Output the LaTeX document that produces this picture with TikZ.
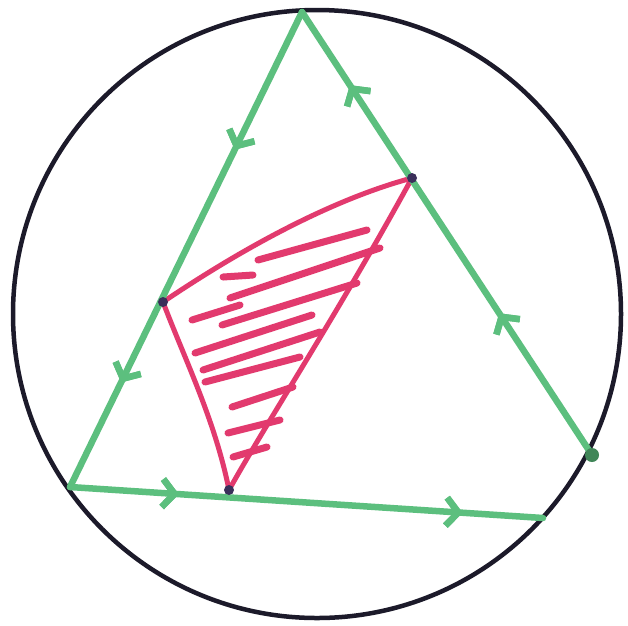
\documentclass[tikz,border=0pt]{standalone}
\usetikzlibrary{arrows.meta,decorations.markings}
\definecolor{pen}{HTML}{5CBF7E}
\definecolor{ink}{HTML}{1C1A2A}
\definecolor{hatch}{HTML}{E23A6E}
\definecolor{dotc}{HTML}{3A2F5A}
\tikzset{
  circ/.style={draw=ink,line width=4.5pt},
  side/.style={draw=pen,line width=6.5pt,line cap=round},
  chev/.style={decoration={markings,mark=at position #1 with {\arrow{Straight Barb[length=12pt,width=28pt,line width=6.5pt]}}},postaction={decorate}},
  redline/.style={draw=hatch,line width=5pt,line cap=round,line join=round},
  hline/.style={draw=hatch,line width=7pt,line cap=round},
  vdot/.style={circle,fill=dotc,inner sep=0pt,minimum size=10pt},
}
\begin{document}
\begin{tikzpicture}[x=1pt,y=-1pt]
\useasboundingbox (0,0) rectangle (628,625);
\fill[white] (0,0) rectangle (628,625);
% circle
\node[circ,circle,minimum size=608pt,inner sep=0pt] (C) at (317,314) {};
% triangle vertices
\coordinate (T) at (302,12);
\coordinate (L) at (70,487);
\coordinate (R) at (592,455);
\coordinate (B) at (543,518);
% red quadrilateral vertices
\coordinate (P) at (163,302);
\coordinate (Q) at (412,178);
\coordinate (S) at (229,490);
% hatching
\draw[hline] (258,260) -- (367,230);
\draw[hline] (223,277) -- (253,275);
\draw[hline] (230,298) -- (380,248);
\draw[hline] (192,320) -- (240,305);
\draw[hline] (222,325) -- (357,283);
\draw[hline] (195,353) -- (312,315);
\draw[hline] (203,370) -- (320,332);
\draw[hline] (205,382) -- (300,357);
\draw[hline] (232,407) -- (293,387);
\draw[hline] (228,433) -- (280,420);
\draw[hline] (233,457) -- (267,447);
% red outline
\draw[redline] (P) .. controls (240,250) and (330,200) .. (Q) .. controls (340,310) and (265,425) .. (S) .. controls (215,420) and (185,360) .. (P);
% green sides
\draw[side,chev=0.29,chev=0.78] (T) -- (L);
\draw[side,chev=0.32,chev=0.835] (R) -- (T);
\draw[side,chev=0.23,chev=0.83] (L) -- (B);
% dots
\node[vdot] (p) at (P) {};
\node[vdot] (q) at (Q) {};
\node[vdot] (s) at (S) {};
\node[circle,fill=pen!70!black,inner sep=0pt,minimum size=14pt] (r) at (R) {};
\end{tikzpicture}
\end{document}
